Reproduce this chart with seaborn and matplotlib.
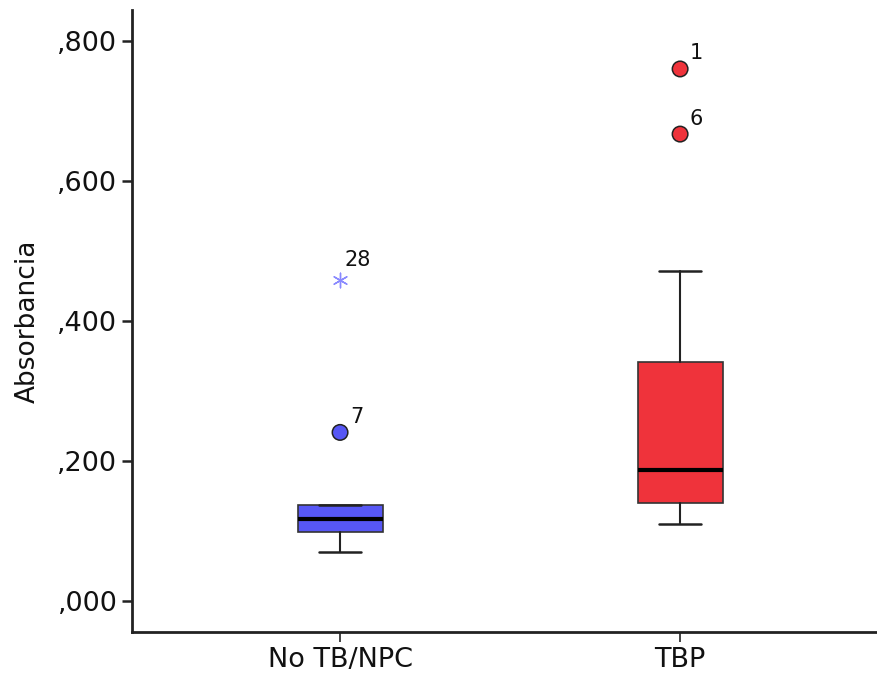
import matplotlib
matplotlib.use("Agg")
import matplotlib.pyplot as plt
import seaborn as sns
import pandas as pd
from matplotlib.ticker import FuncFormatter

# ---- data ----
categories = ["No TB/NPC", "TBP"]
whisker_low = [0.070, 0.110]
q1 = [0.099, 0.1405]
median = [0.117, 0.187]
q3 = [0.137, 0.342]
whisker_high = [0.137, 0.472]

outlier_group = ["No TB/NPC", "TBP", "TBP"]
outlier_value = [0.241, 0.760, 0.667]
outlier_label = ["7", "1", "6"]

extreme_group = ["No TB/NPC"]
extreme_value = [0.459]
extreme_label = ["28"]

yticks = [0.0, 0.2, 0.4, 0.6, 0.8]

box_colors = ["#5757F5", "#EF333B"]
extreme_color = "#8A8AFF"

sns.set_style("ticks")
plt.rcParams["font.family"] = ["DejaVu Sans"]
plt.rcParams["text.color"] = "#111111"
plt.rcParams["axes.labelcolor"] = "#111111"
plt.rcParams["xtick.color"] = "#111111"
plt.rcParams["ytick.color"] = "#111111"

fig = plt.figure(figsize=(8.78, 6.76), dpi=100)
ax = fig.add_axes([0.1503, 0.0651, 0.8497, 0.9199])

stats = []
for i, c in enumerate(categories):
    stats.append(dict(label=c, whislo=whisker_low[i], q1=q1[i], med=median[i],
                      q3=q3[i], whishi=whisker_high[i], fliers=[]))

pos = list(range(len(categories)))
bp = ax.bxp(stats, positions=pos, widths=0.25, capwidths=0.125,
            showfliers=False, patch_artist=True,
            boxprops=dict(linewidth=1.2, edgecolor="#333333"),
            whiskerprops=dict(linewidth=1.5, color="#222222"),
            capprops=dict(linewidth=1.8, color="#222222"),
            medianprops=dict(linewidth=3, color="black"))
for patch, col in zip(bp["boxes"], box_colors):
    patch.set_facecolor(col)

cat_pos = {c: i for i, c in enumerate(categories)}
odf = pd.DataFrame({"x": [cat_pos[g] for g in outlier_group],
                    "y": outlier_value, "g": outlier_group})
sns.scatterplot(data=odf, x="x", y="y", hue="g",
                palette=dict(zip(categories, box_colors)),
                s=125, edgecolor="#222222", linewidth=1.1,
                legend=False, ax=ax, zorder=5)
for x, y, lab in zip(odf["x"], odf["y"], outlier_label):
    ax.annotate(lab, (x, y), xytext=(7, 4), textcoords="offset points",
                ha="left", va="bottom", fontsize=15, color="#111111")

edf = pd.DataFrame({"x": [cat_pos[g] for g in extreme_group], "y": extreme_value})
sns.scatterplot(data=edf, x="x", y="y", marker=(6, 2, 0), s=110,
                color=extreme_color, linewidth=1.0, edgecolor=extreme_color,
                legend=False, ax=ax, zorder=5)
for x, y, lab in zip(edf["x"], edf["y"], extreme_label):
    ax.annotate(lab, (x, y), xytext=(3, 7), textcoords="offset points",
                ha="left", va="bottom", fontsize=15, color="#111111")

ax.set_xlim(-0.612, 1.582)
ax.set_ylim(-0.044, 0.844)
ax.set_xticks(pos)
ax.set_xticklabels(categories)
ax.set_yticks(yticks)
ax.yaxis.set_major_formatter(FuncFormatter(lambda v, p: ("%.3f" % v).replace("0.", ",", 1)))
ax.set_xlabel("")
ax.set_ylabel("Absorbancia", fontsize=19, labelpad=12)
ax.tick_params(axis="y", labelsize=19.5, length=7, width=1.8, direction="out", color="#222222")
ax.tick_params(axis="x", labelsize=19.5, length=7, width=1.2, direction="out", color="#222222")
sns.despine(ax=ax, top=True, right=True)
for s in ["left", "bottom"]:
    ax.spines[s].set_linewidth(2)
    ax.spines[s].set_color("#222222")

fig.savefig("out.png", dpi=100)
